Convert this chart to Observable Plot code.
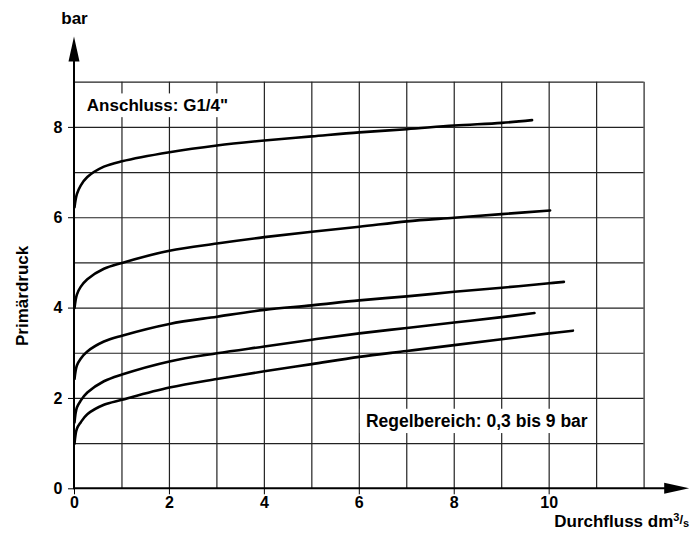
<!DOCTYPE html>
<html>
<head>
<meta charset="utf-8">
<script src="https://cdn.jsdelivr.net/npm/d3@7"></script>
<script src="https://cdn.jsdelivr.net/npm/@observablehq/plot@0.6"></script>
<style>
  html, body { margin: 0; padding: 0; background: #fff; }
  svg { display: block; }
  #chart g[aria-label^="x-axis"] text, #chart g[aria-label^="y-axis"] text { font-size: 16px; font-weight: bold; }
</style>
</head>
<body>
<div id="chart"></div>
<script>
// ---- data ----
const xTicks = [0, 2, 4, 6, 8, 10];
const yTicks = [0, 2, 4, 6, 8];
const xGrid = [1, 2, 3, 4, 5, 6, 7, 8, 9, 10, 11, 12];
const yGrid = [1, 2, 3, 4, 5, 6, 7, 8, 9];

const flow1 = [0, 0.05, 0.13, 0.27, 0.62, 1, 2, 3, 4, 5, 6, 7, 8, 9, 9.64];
const pressure1 = [6.23, 6.52, 6.71, 6.9, 7.13, 7.25, 7.45, 7.6, 7.71, 7.8, 7.89, 7.96, 8.04, 8.1, 8.16];

const flow2 = [0, 0.05, 0.13, 0.27, 0.62, 1, 2, 3, 4, 5, 6, 7, 8, 9, 10.02];
const pressure2 = [4.0, 4.3, 4.47, 4.64, 4.87, 5.0, 5.27, 5.43, 5.57, 5.69, 5.8, 5.92, 6.0, 6.08, 6.16];

const flow3 = [0, 0.05, 0.13, 0.27, 0.62, 1, 2, 3, 4, 5, 6, 7, 8, 9, 10, 10.31];
const pressure3 = [2.43, 2.73, 2.88, 3.04, 3.26, 3.39, 3.65, 3.81, 3.96, 4.06, 4.17, 4.26, 4.36, 4.45, 4.55, 4.58];

const flow4 = [0, 0.05, 0.13, 0.27, 0.62, 1, 2, 3, 4, 5, 6, 7, 8, 9, 9.69];
const pressure4 = [1.47, 1.8, 1.95, 2.13, 2.38, 2.53, 2.82, 3.0, 3.15, 3.3, 3.44, 3.56, 3.68, 3.8, 3.89];

const flow5 = [0, 0.05, 0.13, 0.27, 0.62, 1, 2, 3, 4, 5, 6, 7, 8, 9, 10, 10.5];
const pressure5 = [1.0, 1.33, 1.47, 1.65, 1.86, 1.97, 2.24, 2.43, 2.6, 2.76, 2.92, 3.05, 3.18, 3.31, 3.44, 3.5];

const yUnit = "bar";
const yTitle = "Primärdruck";
const xTitleMain = "Durchfluss dm";
const xTitleSup = "3";
const xTitleSlash = "/";
const xTitleSub = "s";
const note1 = "Anschluss: G1/4\"";
const note2 = "Regelbereich: 0,3 bis 9 bar";

// ---- build ----
const series = [
  [flow1, pressure1], [flow2, pressure2], [flow3, pressure3], [flow4, pressure4], [flow5, pressure5]
];
const curveData = series.flatMap(([xs, ys], k) => xs.map((x, i) => ({curve: k, x, y: ys[i]})));

const FONT = "'Liberation Sans', Arial, Helvetica, sans-serif";
const xArrowTip = 12.96, yArrowTip = 10;

const measureCtx = document.createElement("canvas").getContext("2d");
function textWidth(str, size) {
  measureCtx.font = `bold ${size}px 'Liberation Sans', Arial, sans-serif`;
  return measureCtx.measureText(str).width;
}

function axesWithArrows(index, scales) {
  const {x, y} = scales;
  const g = d3.create("svg:g").attr("fill", "black").attr("stroke", "black");
  const x0 = x(0), y0 = y(0), xt = x(xArrowTip), yt = y(yArrowTip);
  const len = 25, hw = 5.5;
  g.append("line").attr("x1", x0).attr("y1", y0 + 0.5).attr("x2", x0).attr("y2", yt + len - 1).attr("stroke-width", 2);
  g.append("line").attr("x1", x0 - 1).attr("y1", y0).attr("x2", xt - len + 1).attr("y2", y0).attr("stroke-width", 2);
  g.append("path").attr("stroke", "none").attr("d", `M${x0},${yt}L${x0 - hw},${yt + len}L${x0 + hw},${yt + len}Z`);
  g.append("path").attr("stroke", "none").attr("d", `M${xt},${y0}L${xt - len},${y0 - hw}L${xt - len},${y0 + hw}Z`);
  return g.node();
}

// boxed annotation: white rectangle behind bold text (baseline at the given data point)
function boxedNote(str, xv, yv, size) {
  return (index, scales) => {
    const px = scales.x(xv), py = scales.y(yv);
    const w = textWidth(str, size);
    const g = d3.create("svg:g");
    g.append("rect")
      .attr("x", px - 6).attr("y", py - size * 0.92 - 2)
      .attr("width", w + 12).attr("height", size * 1.16 + 4)
      .attr("fill", "white");
    g.append("text")
      .attr("x", px).attr("y", py)
      .attr("text-anchor", "start")
      .attr("font-size", size).attr("font-weight", "bold")
      .attr("fill", "black").text(str);
    return g.node();
  };
}

function xTitleMark(index, scales) {
  const px = scales.x(xArrowTip), py = scales.y(-0.85);
  const g = d3.create("svg:g");
  const t = g.append("text")
    .attr("x", px).attr("y", py).attr("text-anchor", "end")
    .attr("font-size", 17).attr("font-weight", "bold").attr("fill", "black");
  t.append("tspan").text(xTitleMain);
  t.append("tspan").attr("font-size", 11).attr("dy", -6).text(xTitleSup);
  t.append("tspan").attr("font-size", 13).attr("dy", 3).text(xTitleSlash);
  t.append("tspan").attr("font-size", 11).attr("dy", 3).text(xTitleSub);
  return g.node();
}

const chart = Plot.plot({
  width: 691,
  height: 534,
  marginLeft: 74,
  marginRight: 47.4,
  marginTop: 81.7,
  marginBottom: 45.7,
  style: {fontFamily: FONT, fontWeight: "bold", fontSize: "16px", color: "black", background: "white", overflow: "visible"},
  x: {domain: [0, 12], ticks: xTicks, tickSize: 6, tickPadding: 2, label: null},
  y: {domain: [0, 9], ticks: yTicks, tickSize: 6, tickPadding: 6, label: null},
  marks: [
    Plot.ruleX(xGrid, {x: d => d, y1: 0, y2: 9, stroke: "#222", strokeWidth: 1.2}),
    Plot.ruleY(yGrid, {y: d => d, x1: 0, x2: 12, stroke: "#222", strokeWidth: 1.2}),
    boxedNote(note1, 0.27, 8.35, 17),
    boxedNote(note2, 6.15, 1.36, 17.5),
    Plot.line(curveData, {x: "x", y: "y", z: "curve", stroke: "black", strokeWidth: 2.6, curve: "catmull-rom"}),
    axesWithArrows,
    Plot.text([yUnit], {x: 0, y: 10.29, text: d => d, textAnchor: "middle", lineAnchor: "bottom", fontSize: 17, fill: "black"}),
    Plot.text([yTitle], {x: -0.98, y: 4.27, text: d => d, rotate: -90, textAnchor: "middle", lineAnchor: "bottom", fontSize: 17, fill: "black"}),
    xTitleMark
  ]
});

document.getElementById("chart").append(chart);
</script>
</body>
</html>
